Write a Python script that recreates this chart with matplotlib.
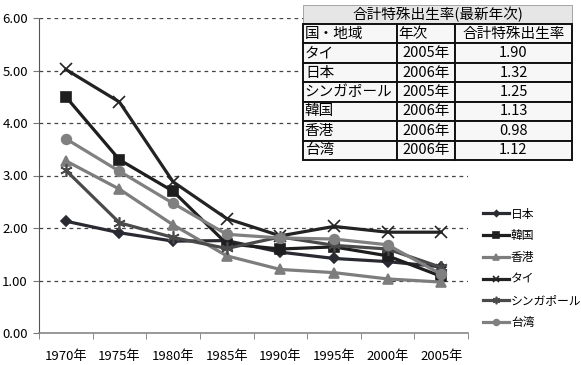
"""
Total fertility rate in East Asia, 1970-2005, with a small table of latest values
"""
import matplotlib
matplotlib.use("Agg")
import matplotlib.pyplot as plt

plt.rcParams["font.family"] = ["Noto Sans CJK JP", "DejaVu Sans"]

years = ["1970年", "1975年", "1980年", "1985年", "1990年", "1995年", "2000年", "2005年"]

japan = [2.13, 1.91, 1.75, 1.76, 1.54, 1.42, 1.36, 1.26]
korea = [4.50, 3.30, 2.70, 1.70, 1.60, 1.64, 1.47, 1.08]
hongkong = [3.28, 2.74, 2.06, 1.47, 1.21, 1.15, 1.03, 0.97]
thai = [5.02, 4.40, 2.88, 2.18, 1.85, 2.03, 1.92, 1.92]
singapore = [3.10, 2.10, 1.82, 1.61, 1.83, 1.67, 1.60, 1.25]
taiwan = [3.70, 3.08, 2.47, 1.88, 1.81, 1.79, 1.68, 1.12]

series_names = ["日本", "韓国", "香港", "タイ", "シンガポール", "台湾"]

table_title = "合計特殊出生率(最新年次)"
table_header = ["国・地域", "年次", "合計特殊出生率"]
table_regions = ["タイ", "日本", "シンガポール", "韓国", "香港", "台湾"]
table_years = ["2005年", "2006年", "2005年", "2006年", "2006年", "2006年"]
table_rates = ["1.90", "1.32", "1.25", "1.13", "0.98", "1.12"]


def main():
    W, H = 581, 365
    fig = plt.figure(figsize=(W / 100, H / 100), dpi=100)
    ax = fig.add_axes([39 / W, 1 - 333 / H, (468 - 39) / W, (333 - 18) / H])

    # (values, marker, colour, marker size)
    styles = [
        (japan, "D", "#2a2a33", 5),
        (korea, "s", "#1e1e1e", 7),
        (hongkong, "^", "#7d7d7d", 7),
        (thai, "x", "#232323", 8),
        (singapore, (6, 2, 0), "#4a4a4a", 9),
        (taiwan, "o", "#808080", 7),
    ]
    x = list(range(len(years)))
    for (vals, mk, col, ms), name in zip(styles, series_names):
        ax.plot(x, vals, color=col, lw=2.3, marker=mk, ms=ms,
                markeredgewidth=1.2, markeredgecolor=col, markerfacecolor=col,
                label=name)

    ax.set_xlim(-0.5, len(years) - 0.5)
    ax.set_ylim(0, 6)
    ax.set_yticks([0, 1, 2, 3, 4, 5, 6])
    ax.set_yticklabels([f"{v:.2f}" for v in [0, 1, 2, 3, 4, 5, 6]], fontsize=9.5)
    ax.set_xticks(x)
    ax.set_xticklabels(years, fontsize=9.5)
    ax.set_xticks([i + 0.5 for i in range(-1, len(years))], minor=True)
    ax.tick_params(axis="x", which="major", length=0, pad=12)
    ax.tick_params(axis="x", which="minor", length=4, color="#777777")
    ax.tick_params(axis="y", length=4, color="#777777", pad=4)

    ax.grid(axis="y", linestyle=(0, (3, 3)), color="#444444", lw=0.9)
    ax.set_axisbelow(True)
    for s in ["top", "right"]:
        ax.spines[s].set_visible(False)
    ax.spines["left"].set_linestyle((0, (1, 1)))
    ax.spines["left"].set_color("#555555")
    ax.spines["bottom"].set_color("#888888")
    ax.spines["bottom"].set_linewidth(1.2)

    fig.legend(loc="upper left", bbox_to_anchor=(472 / W, 1 - 197 / H),
               frameon=False, fontsize=8.5, handlelength=2.2, markerscale=0.6,
               handletextpad=0.2, labelspacing=0.74)

    # table of latest values
    tx0, tx1 = 303 / W, 572 / W
    title_ax = fig.add_axes([tx0, 1 - 24 / H, tx1 - tx0, 19 / H])
    title_ax.axis("off")
    t1 = title_ax.table(cellText=[[table_title]], bbox=[0, 0, 1, 1],
                        cellLoc="center")
    t1.auto_set_font_size(False)
    c = t1[0, 0]
    c.set_facecolor("#e6e6e6")
    c.set_edgecolor("#999999")
    c.set_linewidth(0.6)
    c.get_text().set_fontsize(10.5)

    body_ax = fig.add_axes([tx0, 1 - 160 / H, tx1 - tx0, 136 / H])
    body_ax.axis("off")
    rows = [table_header] + [list(r) for r in zip(table_regions, table_years, table_rates)]
    t2 = body_ax.table(cellText=rows, bbox=[0, 0, 1, 1],
                       colWidths=[94, 58, 117], cellLoc="center")
    t2.auto_set_font_size(False)
    for (r, cidx), cell in t2.get_celld().items():
        cell.set_edgecolor("#111111")
        cell.set_linewidth(1.4)
        cell.set_facecolor("#f7f7f7")
        cell.get_text().set_fontsize(10.5)
        if cidx == 0 or (r == 0 and cidx == 1):
            cell.get_text().set_horizontalalignment("left")
            cell.PAD = 0.02

    fig.savefig("out.png", dpi=100)


if __name__ == "__main__":
    main()
